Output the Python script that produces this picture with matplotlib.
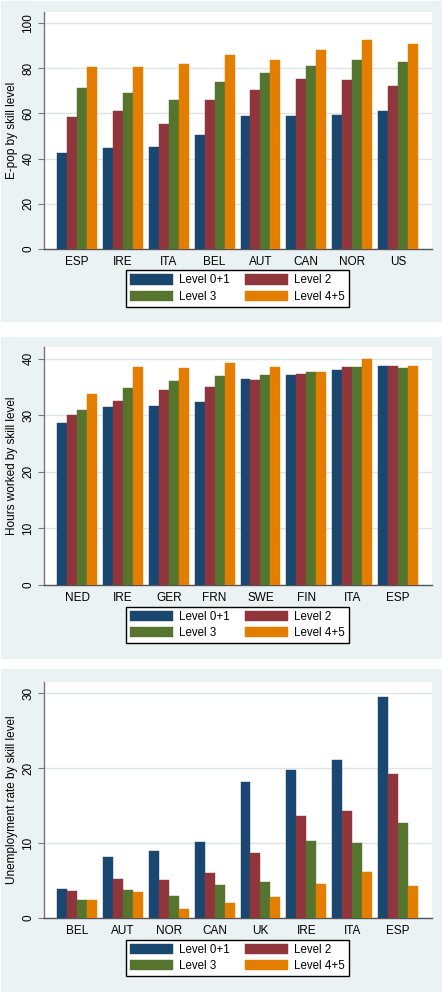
import matplotlib
matplotlib.use("Agg")
import matplotlib.pyplot as plt
from matplotlib.patches import Rectangle
import numpy as np

plt.rcParams['font.family'] = ['Liberation Sans', 'DejaVu Sans']

series_names = ["Level 0+1", "Level 2", "Level 3", "Level 4+5"]
colors = ["#1A476F", "#90353B", "#55752F", "#E37E00"]

# Panel 1: employment-population ratio
epop_countries = ["ESP", "IRE", "ITA", "BEL", "AUT", "CAN", "NOR", "US"]
epop_l01 = [42.6, 44.8, 45.1, 50.6, 58.7, 58.8, 59.1, 61.2]
epop_l2 = [58.6, 61.2, 55.2, 65.9, 70.2, 75.4, 74.6, 72.0]
epop_l3 = [71.1, 69.2, 66.1, 73.9, 78.0, 81.1, 83.8, 82.6]
epop_l45 = [80.4, 80.4, 82.0, 86.0, 83.8, 88.2, 92.3, 90.9]

# Panel 2: hours worked
hours_countries = ["NED", "IRE", "GER", "FRN", "SWE", "FIN", "ITA", "ESP"]
hours_l01 = [28.7, 31.5, 31.7, 32.4, 36.5, 37.2, 38.1, 38.8]
hours_l2 = [30.1, 32.6, 34.5, 35.0, 36.3, 37.4, 38.5, 38.8]
hours_l3 = [31.0, 34.9, 36.0, 37.0, 37.1, 37.6, 38.6, 38.3]
hours_l45 = [33.8, 38.5, 38.4, 39.2, 38.6, 37.6, 39.9, 38.7]

# Panel 3: unemployment rate
unemp_countries = ["BEL", "AUT", "NOR", "CAN", "UK", "IRE", "ITA", "ESP"]
unemp_l01 = [3.8, 8.15, 8.95, 10.15, 18.1, 19.7, 21.05, 29.4]
unemp_l2 = [3.6, 5.2, 5.05, 5.95, 8.7, 13.6, 14.2, 19.2]
unemp_l3 = [2.45, 3.7, 2.9, 4.4, 4.8, 10.3, 10.0, 12.65]
unemp_l45 = [2.45, 3.5, 1.2, 2.05, 2.8, 4.55, 6.15, 4.25]

W, H = 443, 992
fig = plt.figure(figsize=(W / 100, H / 100), dpi=100)
fig.patch.set_facecolor("white")

BG = "#EAF2F3"
GRID = "#DCE6E8"


def fx(px):
    return px / W


def fy(py):
    return 1 - py / H


panels = [
    dict(cats=epop_countries, data=[epop_l01, epop_l2, epop_l3, epop_l45],
         ylabel="E-pop by skill level", ticks=[0, 20, 40, 60, 80, 100], ytop=104.9,
         bg=(1, 322), ax=(12, 249), leg=(270, 307)),
    dict(cats=hours_countries, data=[hours_l01, hours_l2, hours_l3, hours_l45],
         ylabel="Hours worked by skill level", ticks=[0, 10, 20, 30, 40], ytop=42.1,
         bg=(337, 659), ax=(347, 585), leg=(607, 643)),
    dict(cats=unemp_countries, data=[unemp_l01, unemp_l2, unemp_l3, unemp_l45],
         ylabel="Unemployment rate by skill level", ticks=[0, 10, 20, 30], ytop=31.46,
         bg=(669, 992), ax=(682, 918), leg=(940, 976)),
]

for p in panels:
    b0, b1 = p["bg"]
    fig.patches.append(Rectangle((fx(1), fy(b1)), fx(442) - fx(1), fy(b0) - fy(b1),
                                 transform=fig.transFigure, facecolor=BG,
                                 edgecolor="none", zorder=-5))
    a0, a1 = p["ax"]
    ax = fig.add_axes([fx(44), fy(a1), fx(432) - fx(44), fy(a0) - fy(a1)], zorder=2)
    ax.set_facecolor("white")
    n = len(p["cats"])
    x = np.arange(n)
    bw = 0.87 / 4
    handles = []
    for i, (vals, c, name) in enumerate(zip(p["data"], colors, series_names)):
        h = ax.bar(x + (i - 1.5) * bw, vals, width=bw, color=c, edgecolor=c,
                   linewidth=0.3, label=name, zorder=3)
        handles.append(h)
    ax.set_xlim(-0.72, n - 1 + 0.74)
    ax.set_ylim(0, p["ytop"])
    ax.set_xticks(x)
    ax.set_xticklabels(p["cats"], fontsize=8.5)
    ax.tick_params(axis="x", length=0, pad=5)
    ax.set_yticks(p["ticks"])
    ax.set_yticklabels([str(t) for t in p["ticks"]], fontsize=8.5, rotation=90,
                       va="center")
    ax.tick_params(axis="y", length=4.5, width=0.8, color="#777777", pad=2.5)
    ax.grid(axis="y", color=GRID, linewidth=1.0, zorder=1)
    ax.set_axisbelow(True)
    for s in ["top", "right"]:
        ax.spines[s].set_visible(False)
    ax.spines["left"].set_color("#777777")
    ax.spines["left"].set_linewidth(1.0)
    ax.spines["bottom"].set_color("#555555")
    ax.spines["bottom"].set_linewidth(1.0)
    ax.set_ylabel(p["ylabel"], fontsize=8.5)
    ax.yaxis.set_label_coords((18 - 44) / 388, 0.5)
    l0, l1 = p["leg"]
    order = [0, 2, 1, 3]
    leg = fig.legend(handles=[handles[k] for k in order],
                     labels=[series_names[k] for k in order], ncol=2,
                     loc="center", bbox_to_anchor=(fx(237.5), (fy(l0) + fy(l1)) / 2),
                     fontsize=8.3, frameon=True, fancybox=False,
                     edgecolor="black", framealpha=1, handlelength=3.7,
                     handleheight=1.0, handletextpad=0.55, columnspacing=1.3,
                     labelspacing=0.35, borderpad=0.35, borderaxespad=0)
    leg.get_frame().set_linewidth(1.0)
    leg.set_zorder(3)

fig.savefig("out.png", dpi=100, facecolor="white")
